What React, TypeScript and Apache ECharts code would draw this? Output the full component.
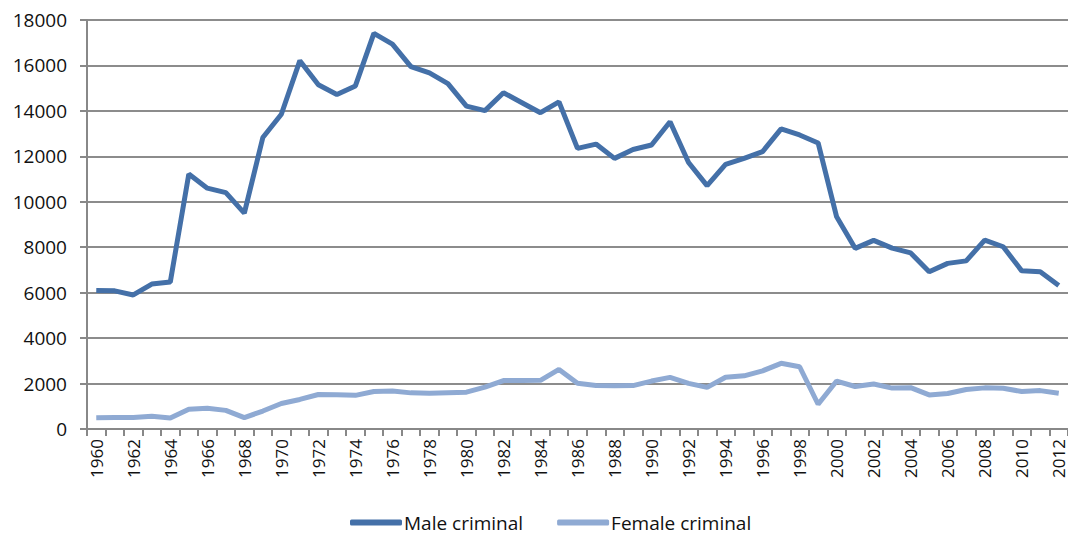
import React, { useEffect, useRef } from "react";
import * as echarts from "echarts";

const years: string[] = [];
for (let y = 1960; y <= 2012; y++) years.push(String(y));

const maleCriminal = [
  6100, 6080, 5900, 6380, 6470, 11220, 10600, 10400, 9500, 12830, 13850, 16210, 15150,
  14720, 15100, 17410, 16940, 15950, 15670, 15200, 14210, 14010, 14800, 14360, 13920,
  14400, 12350, 12540, 11910, 12300, 12500, 13520, 11730, 10710, 11650, 11910, 12210,
  13210, 12940, 12590, 9340, 7950, 8300, 7960, 7750, 6920, 7290, 7400, 8310, 8020,
  6960, 6920, 6320,
];

const femaleCriminal = [
  500, 510, 510, 560, 480, 870, 910, 820, 500, 790, 1120, 1300, 1520, 1510, 1480, 1650,
  1670, 1590, 1570, 1600, 1620, 1840, 2130, 2130, 2140, 2620, 2010, 1910, 1900, 1910,
  2110, 2270, 2010, 1830, 2280, 2340, 2560, 2890, 2740, 1090, 2110, 1870, 1980, 1800,
  1820, 1500, 1560, 1740, 1810, 1790, 1650, 1690, 1570,
];

const seriesNames = ["Male criminal", "Female criminal"];
const colors = ["#4470A8", "#8FAAD3"];

export default function App() {
  const ref = useRef<HTMLDivElement>(null);
  useEffect(() => {
    if (!ref.current) return;
    const chart = echarts.init(ref.current, null, { renderer: "svg" });
    const font = "'Open Sans', 'Noto Sans', sans-serif";
    chart.setOption({
      animation: false,
      backgroundColor: "#ffffff",
      grid: { left: 87, right: -4, top: 20, bottom: 108, containLabel: false },
      legend: {
        bottom: 0,
        left: 345,
        itemWidth: 52,
        itemHeight: 6,
        itemGap: 34,
        icon: "roundRect",
        data: seriesNames,
        textStyle: { fontFamily: font, fontSize: 19, color: "#111", padding: [0, 0, 0, -3] },
      },
      xAxis: {
        type: "category",
        data: years,
        boundaryGap: true,
        axisLine: { lineStyle: { color: "#888888", width: 2 } },
        axisTick: { show: true, alignWithLabel: false, interval: 0, length: 7, lineStyle: { color: "#888888", width: 2 } },
        axisLabel: {
          interval: 1,
          rotate: 90,
          margin: 10,
          fontFamily: font,
          fontSize: 17,
          color: "#111",
        },
      },
      yAxis: {
        type: "value",
        min: 0,
        max: 18000,
        interval: 2000,
        axisLine: { show: true, lineStyle: { color: "#888888", width: 2 } },
        axisTick: { show: true, length: 7, lineStyle: { color: "#888888", width: 2 } },
        splitLine: { lineStyle: { color: "#8c8c8c", width: 2 } },
        axisLabel: {
          fontFamily: font,
          fontSize: 19,
          color: "#111",
          margin: 20,
          formatter: (v: number) => String(v),
        },
      },
      series: [
        {
          name: seriesNames[0],
          type: "line",
          data: maleCriminal,
          showSymbol: false,
          symbol: "none",
          lineStyle: { color: colors[0], width: 5 },
          itemStyle: { color: colors[0] },
        },
        {
          name: seriesNames[1],
          type: "line",
          data: femaleCriminal,
          showSymbol: false,
          symbol: "none",
          lineStyle: { color: colors[1], width: 5 },
          itemStyle: { color: colors[1] },
        },
      ],
    });
    return () => chart.dispose();
  }, []);
  return (
    <div
      ref={ref}
      style={{ position: "fixed", left: 0, top: 0, width: 1068, height: 537, background: "#fff" }}
    />
  );
}
